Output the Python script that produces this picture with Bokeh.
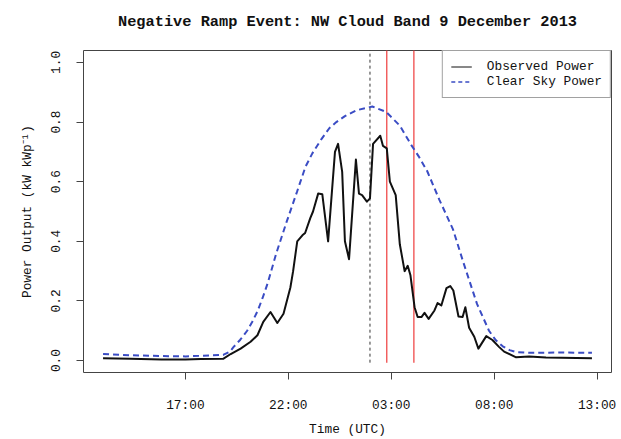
from bokeh.plotting import figure
from bokeh.models import Range1d, FixedTicker, Legend, LegendItem, NumeralTickFormatter
from bokeh.embed import file_html
from bokeh.resources import INLINE

# ---- data ----
obs_times = ["13:00", "14:20", "15:50", "17:00", "17:45", "18:50", "19:12", "19:41",
             "20:10", "20:30", "20:47", "21:08", "21:28", "21:46", "22:06", "22:14",
             "22:26", "22:41", "22:49", "23:04", "23:12", "23:27", "23:39", "23:56",
             "00:16", "00:25", "00:37", "00:45", "00:57", "01:17", "01:26", "01:35",
             "01:49", "01:58", "02:07", "02:28", "02:36", "02:47", "02:56", "03:13",
             "03:25", "03:39", "03:48", "03:56", "04:08", "04:17", "04:28", "04:37",
             "04:49", "05:06", "05:15", "05:26", "05:41", "05:52", "06:01", "06:16",
             "06:28", "06:36", "06:47", "07:02", "07:14", "07:37", "07:55", "08:14",
             "08:29", "09:04", "09:42", "10:31", "12:45"]
obs_power = [0.008, 0.006, 0.004, 0.004, 0.005, 0.006, 0.022, 0.040,
             0.063, 0.085, 0.130, 0.163, 0.126, 0.157, 0.245, 0.300,
             0.400, 0.420, 0.428, 0.478, 0.500, 0.560, 0.558, 0.400,
             0.700, 0.727, 0.633, 0.400, 0.340, 0.674, 0.560, 0.555,
             0.533, 0.544, 0.727, 0.754, 0.720, 0.712, 0.600, 0.555,
             0.390, 0.300, 0.318, 0.286, 0.179, 0.146, 0.146, 0.160,
             0.140, 0.168, 0.193, 0.185, 0.243, 0.250, 0.235, 0.148,
             0.146, 0.179, 0.110, 0.080, 0.040, 0.082, 0.069, 0.046,
             0.030, 0.011, 0.014, 0.010, 0.008]

clear_times = ["13:00", "14:20", "15:50", "17:00", "17:45", "18:50", "19:10", "19:20",
               "19:40", "20:00", "20:15", "20:30", "20:45", "21:00", "21:25", "21:55",
               "22:25", "22:50", "23:10", "23:35", "00:00", "00:20", "00:45", "01:20",
               "02:05", "02:45", "03:25", "04:00", "04:20", "04:45", "05:20", "06:00",
               "06:30", "07:10", "07:45", "08:05", "08:25", "08:45", "09:05", "09:40",
               "11:10", "12:45"]
clear_power = [0.022, 0.018, 0.015, 0.014, 0.016, 0.019, 0.030, 0.045,
               0.070, 0.100, 0.130, 0.165, 0.210, 0.260, 0.360, 0.465,
               0.565, 0.650, 0.695, 0.740, 0.780, 0.800, 0.820, 0.840,
               0.852, 0.834, 0.788, 0.720, 0.685, 0.635, 0.540, 0.440,
               0.330, 0.190, 0.100, 0.068, 0.048, 0.035, 0.028, 0.026,
               0.027, 0.026]

noon_time = "01:58"                 # black dashed marker
ramp_times = ["02:47", "04:06"]     # red ramp markers
x_tick_labels = ["17:00", "22:00", "03:00", "08:00", "13:00"]
y_ticks = [0.0, 0.2, 0.4, 0.6, 0.8, 1.0]
title_text = "Negative Ramp Event: NW Cloud Band 9 December 2013"


def hours(t):
    hh, mm = (int(v) for v in t.split(":"))
    return ((hh - 13) % 24) + mm / 60.0


def hours_seq(ts):
    out, prev = [], -1
    for t in ts:
        h = hours(t)
        while h < prev:
            h += 24
        out.append(h)
        prev = h
    return out


obs_h = hours_seq(obs_times)
clear_h = hours_seq(clear_times)
tick_pos = [int(round(h)) for h in hours_seq(x_tick_labels)]

FONT = "Liberation Mono"

p = figure(width=621, height=439, output_backend="svg", toolbar_location=None,
           x_range=Range1d(-0.95, 24.7), y_range=Range1d(-0.04, 1.04),
           min_border_left=83, min_border_right=10, min_border_top=50,
           min_border_bottom=62)
p.background_fill_color = "white"
p.border_fill_color = "white"
p.grid.visible = False
p.outline_line_color = "#444444"
p.outline_line_width = 1

# second (blank) line pushes the title up, away from the frame
p.title.text = title_text + "\n "
p.title.align = "center"
p.title.text_font = FONT
p.title.text_font_size = "15.3px"
p.title.text_font_style = "bold"
p.title.text_color = "#111111"
p.title.standoff = 4

for ax in (p.xaxis[0], p.yaxis[0]):
    ax.axis_line_color = None
    ax.major_tick_in = 0
    ax.major_tick_out = 7
    ax.major_tick_line_color = "#444444"
    ax.minor_tick_line_color = None
    ax.major_label_text_font = FONT
    ax.major_label_text_font_size = "12.8px"
    ax.major_label_text_color = "#111111"
    ax.axis_label_text_font = FONT
    ax.axis_label_text_font_size = "12.8px"
    ax.axis_label_text_font_style = "normal"
    ax.axis_label_text_color = "#111111"

p.xaxis.ticker = FixedTicker(ticks=tick_pos)
p.xaxis.major_label_overrides = {pos: lab for pos, lab in zip(tick_pos, x_tick_labels)}
p.xaxis.major_label_standoff = 18
p.xaxis.axis_label = "Time (UTC)"
p.xaxis.axis_label_standoff = 6

p.yaxis.ticker = FixedTicker(ticks=y_ticks)
p.yaxis.formatter = NumeralTickFormatter(format="0.0")
p.yaxis.major_label_orientation = "vertical"
p.yaxis.major_label_standoff = 16
p.yaxis.axis_label = "Power Output (kW kWp\u207b\u00b9)"
p.yaxis.axis_label_standoff = 14

# marker lines
bottom_y = -0.007
top_y = 1.1
p.segment(x0=[hours(noon_time)], y0=[bottom_y], x1=[hours(noon_time)], y1=[top_y],
          line_color="#333333", line_width=1, line_dash="3 3")
rh = [hours(t) for t in ramp_times]
p.segment(x0=rh, y0=[bottom_y] * len(rh), x1=rh, y1=[top_y] * len(rh),
          line_color="#ee3b3b", line_width=1.2)

# series
p.line(clear_h, clear_power, line_color="#3a4cc4", line_width=2, line_dash="6 4")
p.line(obs_h, obs_power, line_color="#111111", line_width=2, line_join="round")

# legend-only renderers (no visible data)
nan = float("nan")
l_obs = p.line([nan, nan], [nan, nan], line_color="#111111", line_width=1)
l_clr = p.line([nan, nan], [nan, nan], line_color="#3a4cc4", line_width=1.5,
               line_dash="4 3")
leg = Legend(items=[LegendItem(label="Observed Power", renderers=[l_obs]),
                    LegendItem(label="Clear Sky Power", renderers=[l_clr])],
             location="top_right")
leg.margin = 0
leg.padding = 8
leg.spacing = 0
leg.glyph_width = 21
leg.glyph_height = 13
leg.label_height = 13
leg.label_standoff = 15
leg.label_text_font = FONT
leg.label_text_font_size = "12.8px"
leg.label_text_color = "#111111"
leg.border_line_color = "#444444"
leg.border_line_width = 1
leg.background_fill_color = "white"
leg.background_fill_alpha = 1
p.add_layout(leg)

open("out.html", "w").write(file_html(p, INLINE))
